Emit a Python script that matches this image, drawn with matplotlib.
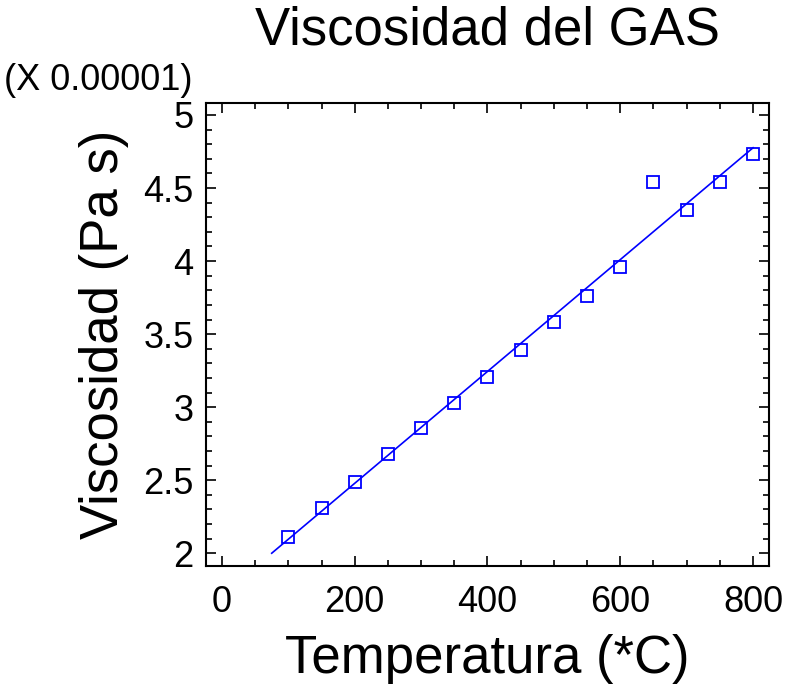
import matplotlib
matplotlib.use('Agg')
import matplotlib.pyplot as plt
import numpy as np
from matplotlib.ticker import MultipleLocator

plt.rcParams['font.family'] = ['Liberation Sans', 'DejaVu Sans']

# datos (viscosidad en unidades de 1e-5 Pa s)
temperatura = [100, 150, 200, 250, 300, 350, 400, 450, 500, 550, 600, 650, 700, 750, 800]
viscosidad = [2.11, 2.31, 2.49, 2.68, 2.86, 3.03, 3.21, 3.39, 3.58, 3.76, 3.96, 4.54, 4.35, 4.54, 4.73]
x_recta = [75, 800]

fig = plt.figure(figsize=(7.88, 6.95), dpi=100)
ax = fig.add_axes([0.2614, 0.1856, 0.7145, 0.6662])

# recta de ajuste
m, b = np.polyfit(temperatura, viscosidad, 1)
xr = np.array(x_recta)
ax.plot(xr, m * xr + b, color='#0000ff', linewidth=1.2)

ax.plot(temperatura, viscosidad, linestyle='none', marker='s', markersize=8,
        markerfacecolor='none', markeredgecolor='#0000ff', markeredgewidth=1.3)

ax.set_xlim(-24, 824)
ax.set_ylim(1.913, 5.082)
ax.xaxis.set_major_locator(MultipleLocator(200))
ax.xaxis.set_minor_locator(MultipleLocator(50))
ax.yaxis.set_major_locator(MultipleLocator(0.5))
ax.yaxis.set_minor_locator(MultipleLocator(0.1))
ax.yaxis.set_major_formatter(matplotlib.ticker.FuncFormatter(lambda v, p: ('%g' % v)))

ax.tick_params(which='both', direction='in', top=True, right=True, width=1.2, labelsize=26)
ax.tick_params(which='major', length=7)
ax.tick_params(axis='x', which='major', pad=14)
ax.tick_params(axis='y', which='major', pad=9)
ax.tick_params(which='minor', length=4)
for s in ax.spines.values():
    s.set_linewidth(1.5)

ax.set_title('Viscosidad del GAS', fontsize=38, pad=42)
ax.set_xlabel('Temperatura (*C)', fontsize=38, labelpad=10)
ax.set_ylabel('Viscosidad (Pa s)', fontsize=38, labelpad=10)

fig.text(193 / 788, 1 - 81 / 695, '(X 0.00001)', fontsize=26, ha='right', va='center')

fig.savefig('out.png', dpi=100)
